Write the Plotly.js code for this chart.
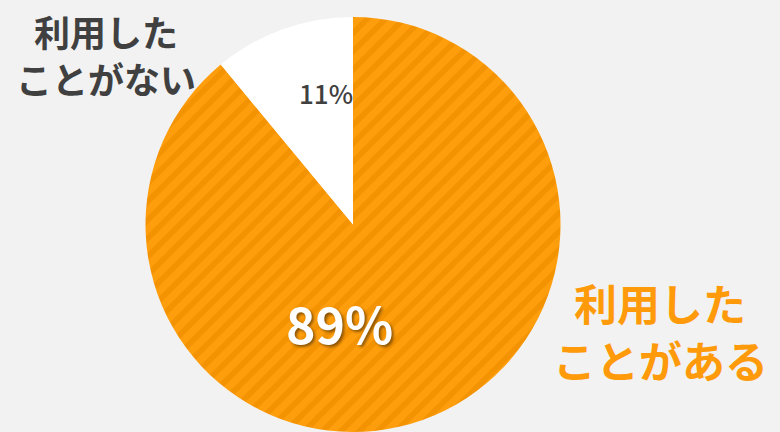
<!DOCTYPE html>
<html><head><meta charset="utf-8">
<script src="https://cdn.plot.ly/plotly-3.0.1.min.js"></script>
<style>html,body{margin:0;padding:0;background:#f2f2f2;}</style>
</head><body>
<div id="chart" style="width:780px;height:432px;"></div>
<script>
const categories = ["利用したことがある", "利用したことがない"];
const labelLines = [["利用した", "ことがある"], ["利用した", "ことがない"]];
const values = [89, 11];
const sliceColors = ["#ff9e0d", "#ffffff"];
const percentText = values.map(v => v + "%");

const font = "Noto Sans CJK JP, Noto Sans, sans-serif";

const trace = {
  type: "pie",
  labels: categories,
  values: values,
  sort: false,
  direction: "clockwise",
  rotation: 0,
  textinfo: "none",
  hoverinfo: "none",
  marker: {
    colors: sliceColors,
    line: {width: 0},
    pattern: {
      shape: ["/", ""],
      fillmode: "overlay",
      fgcolor: "#f39100",
      fgopacity: 0.85,
      size: 13,
      solidity: 0.45
    }
  },
  domain: {x: [145/780, 561/780], y: [0, 1 - 17/432]},
  showlegend: false
};

function ann(x, y, text, f) {
  return {x: x/780, y: 1 - y/432, xref: "paper", yref: "paper", showarrow: false,
          xanchor: "center", yanchor: "middle", text: text, font: f};
}

const darkFont = {family: font, size: 36, color: "#404040", weight: 700};
const orangeFont = {family: font, size: 43, color: "#ff9a0a", weight: 700};

const layout = {
  width: 780, height: 432,
  margin: {l: 0, r: 0, t: 0, b: 0},
  paper_bgcolor: "#f2f2f2",
  plot_bgcolor: "#f2f2f2",
  showlegend: false,
  annotations: [
    ann(106, 31, labelLines[1][0], darkFont),
    ann(106, 78, labelLines[1][1], darkFont),
    ann(660, 302, labelLines[0][0], orangeFont),
    ann(660, 359, labelLines[0][1], orangeFont),
    ann(326, 92, percentText[1], {family: font, size: 26, color: "#404040", weight: 500}),
    ann(339, 322, percentText[0], {family: font, size: 50, color: "#ffffff", weight: 700, shadow: "2px 2px 3px rgba(0,0,0,0.45)"})
  ]
};

Plotly.newPlot("chart", [trace], layout, {displayModeBar: false, staticPlot: true});
</script>
</body></html>
